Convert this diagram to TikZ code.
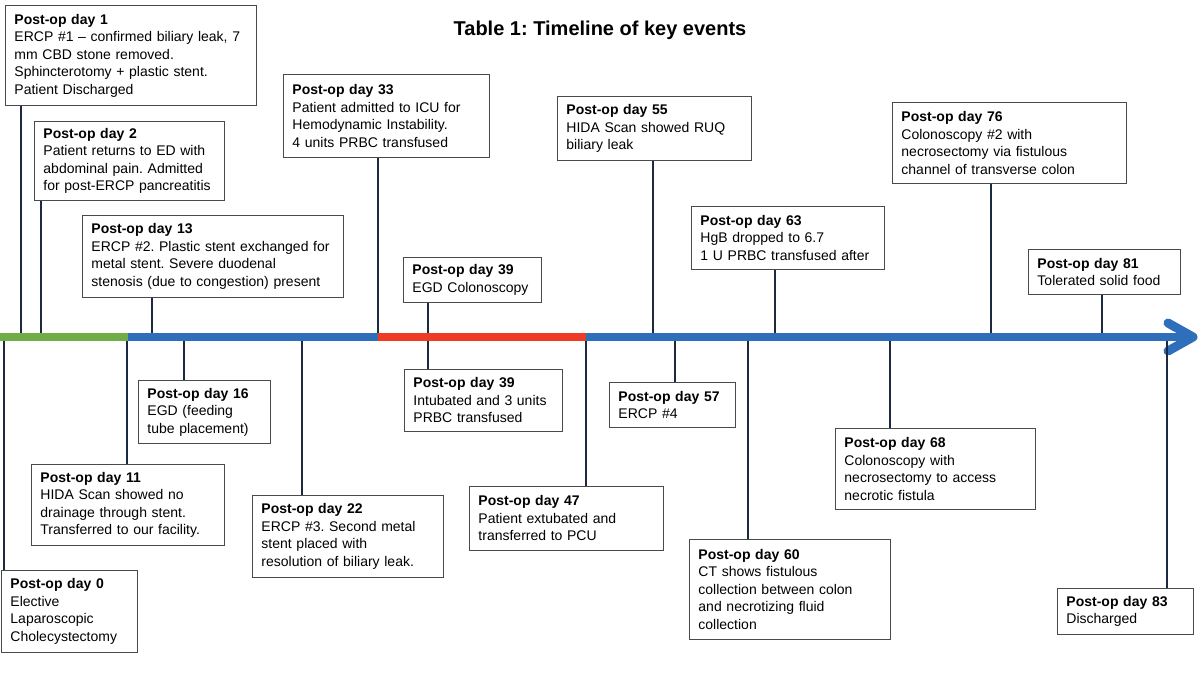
\documentclass[tikz,border=0pt]{standalone}
\usepackage{fontspec}
\setmainfont{Liberation Sans}
\usepackage{xcolor}
\definecolor{axgreen}{HTML}{70AD47}
\definecolor{axblue}{HTML}{2F6EBA}
\definecolor{axred}{HTML}{EE3B24}
\definecolor{ticknavy}{HTML}{1B2A41}
\definecolor{boxgray}{HTML}{4A4A4A}
\frenchspacing

\begin{document}
\begin{tikzpicture}[x=1pt,y=-1pt,
	evbox/.style={draw=boxgray,line width=0.9pt,anchor=north west,align=left,inner xsep=9pt,inner ysep=3pt,font=\fontsize{14}{17.5}\selectfont},
	tick/.style={draw=ticknavy,line width=1.3pt},
	axis/.style={line width=8pt}]
\useasboundingbox (0,0) rectangle (1200,675);

\node[font=\fontsize{20}{24}\selectfont\bfseries] (title) at (600,30) {Table 1: Timeline of key events};

\node[evbox,text width=233pt,minimum height=100pt] (d1) at (5,5) {\textbf{Post-op day 1}\\ERCP \#1 -- confirmed biliary leak, 7\\mm CBD stone removed.\\Sphincterotomy + plastic stent.\\Patient Discharged};
\node[evbox,text width=172pt,minimum height=79pt] (d2) at (34,121) {\textbf{Post-op day 2}\\Patient returns to ED with\\abdominal pain. Admitted\\for post-ERCP pancreatitis};
\node[evbox,text width=243pt,minimum height=82pt] (d13) at (82,215) {\textbf{Post-op day 13}\\ERCP \#2. Plastic stent exchanged for\\metal stent. Severe duodenal\\stenosis (due to congestion) present};
\node[evbox,text width=188pt,minimum height=83pt] (d33) at (283,74) {\textbf{Post-op day 33}\\Patient admitted to ICU for\\Hemodynamic Instability.\\4 units PRBC transfused};
\node[evbox,text width=120pt,minimum height=45pt] (d39a) at (403,257) {\textbf{Post-op day 39}\\EGD Colonoscopy};
\node[evbox,text width=176pt,minimum height=64pt] (d55) at (557,96) {\textbf{Post-op day 55}\\HIDA Scan showed RUQ\\biliary leak};
\node[evbox,text width=175pt,minimum height=63pt] (d63) at (691,206) {\textbf{Post-op day 63}\\HgB dropped to 6.7\\1 U PRBC transfused after};
\node[evbox,text width=216pt,minimum height=81pt] (d76) at (892,102) {\textbf{Post-op day 76}\\Colonoscopy \#2 with\\necrosectomy via fistulous\\channel of transverse colon};
\node[evbox,text width=134pt,minimum height=45pt] (d81) at (1028,249) {\textbf{Post-op day 81}\\Tolerated solid food};

\node[evbox,text width=118pt,minimum height=82pt] (d0) at (1,570) {\textbf{Post-op day 0}\\Elective\\Laparoscopic\\Cholecystectomy};
\node[evbox,text width=175pt,minimum height=81pt] (d11) at (31,464) {\textbf{Post-op day 11}\\HIDA Scan showed no\\drainage through stent.\\Transferred to our facility.};
\node[evbox,text width=114pt,minimum height=63pt] (d16) at (138,380) {\textbf{Post-op day 16}\\EGD (feeding\\tube placement)};
\node[evbox,text width=173pt,minimum height=82pt] (d22) at (252,495) {\textbf{Post-op day 22}\\ERCP \#3. Second metal\\stent placed with\\resolution of biliary leak.};
\node[evbox,text width=140pt,minimum height=62pt] (d39b) at (404,369) {\textbf{Post-op day 39}\\Intubated and 3 units\\PRBC transfused};
\node[evbox,text width=176pt,minimum height=64pt] (d47) at (469,486) {\textbf{Post-op day 47}\\Patient extubated and\\transferred to PCU};
\node[evbox,text width=108pt,minimum height=45pt] (d57) at (609,382) {\textbf{Post-op day 57}\\ERCP \#4};
\node[evbox,text width=183pt,minimum height=100pt] (d60) at (689,539) {\textbf{Post-op day 60}\\CT shows fistulous\\collection between colon\\and necrotizing fluid\\collection};
\node[evbox,text width=182pt,minimum height=81pt] (d68) at (835,428) {\textbf{Post-op day 68}\\Colonoscopy with\\necrosectomy to access\\necrotic fistula};
\node[evbox,text width=118pt,minimum height=46pt] (d83) at (1057,588) {\textbf{Post-op day 83}\\Discharged};

\coordinate (t1) at (21,337);
\coordinate (t2) at (41,337);
\coordinate (t13) at (152,337);
\coordinate (t33) at (378,337);
\coordinate (t39a) at (428,337);
\coordinate (t55) at (653,337);
\coordinate (t63) at (775,337);
\coordinate (t76) at (991,337);
\coordinate (t81) at (1102,337);
\coordinate (t0) at (4,341);
\coordinate (t11) at (127,341);
\coordinate (t16) at (184,341);
\coordinate (t22) at (302,341);
\coordinate (t39b) at (428,341);
\coordinate (t47) at (586,341);
\coordinate (t57) at (675,341);
\coordinate (t60) at (748,341);
\coordinate (t68) at (890,341);
\coordinate (t83) at (1167,341);

\foreach \d in {1,2,13,33,39a,55,63,76,81}
	\draw[tick] (t\d) -- (t\d |- d\d.south);

\coordinate (a0) at (0,337);
\coordinate (a1) at (128,337);
\coordinate (a2) at (378,337);
\coordinate (a3) at (586,337);
\coordinate (aend) at (1193,337);
\draw[axis,axgreen] (a0) -- (a1);
\draw[axis,axblue] (a1) -- (a2);
\draw[axis,axred] (a2) -- (a3);
\draw[axis,axblue] (a3) -- (aend);
\draw[axblue,line width=9pt,line cap=round,line join=round] ([shift={(-25,-14)}]aend) -- (aend) -- ([shift={(-25,14)}]aend);

\foreach \d in {0,11,16,22,39b,47,57,60,68,83}
	\draw[tick] (t\d) -- (t\d |- d\d.north);
\end{tikzpicture}
\end{document}
